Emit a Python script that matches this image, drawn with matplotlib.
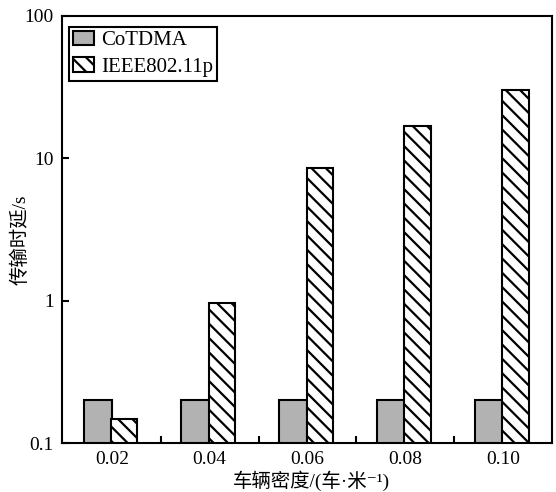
import matplotlib
matplotlib.use("Agg")
import matplotlib.pyplot as plt
import numpy as np

categories = ["0.02", "0.04", "0.06", "0.08", "0.10"]
cotdma = [0.2, 0.2, 0.2, 0.2, 0.2]
ieee = [0.148, 0.96, 8.6, 17.0, 30.3]
series_names = ["CoTDMA", "IEEE802.11p"]
xlabel = "车辆密度/(车·米⁻¹)"
ylabel = "传输时延/s"

DPI = 86
S = 100.0 / DPI  # sizes below were tuned for 100 dpi
BACKSLASH = chr(92)

fam = ["Liberation Serif", "Noto Sans CJK SC", "DejaVu Sans"]
plt.rcParams["font.family"] = fam
plt.rcParams["hatch.linewidth"] = 1.6 * S
plt.rcParams["axes.linewidth"] = 1.5 * S

fig = plt.figure(figsize=(556 / DPI, 492 / DPI), dpi=DPI)
ax = fig.add_axes([62/556, 1 - 443/492, (552-62)/556, (443-16)/492])

x = np.arange(len(categories))
w = 0.29
ax.bar(x - w/2, cotdma, width=w, color="#b2b2b2", edgecolor="black", linewidth=1.5 * S, label=series_names[0])
ax.bar(x + w/2 - 0.02, ieee, width=w - 0.02, color="white", edgecolor="black", linewidth=1.5 * S,
       hatch=BACKSLASH * 2, label=series_names[1])

ax.set_yscale("log")
ax.set_ylim(0.1, 100)
ax.set_xlim(-0.51, 4.5)
ax.set_yticks([0.1, 1, 10, 100])
ax.set_yticklabels(["0.1", "1", "10", "100"])
ax.yaxis.set_minor_locator(matplotlib.ticker.NullLocator())
ax.tick_params(axis="y", which="major", direction="in", length=5 * S, width=1.5 * S,
               labelsize=14 * S, pad=6 * S)

ax.set_xticks([0.5, 1.5, 2.5, 3.5])
ax.set_xticklabels([])
ax.set_xticks(x, minor=True)
ax.set_xticklabels(categories, minor=True)
ax.tick_params(axis="x", which="major", direction="in", length=5 * S, width=1.5 * S)
ax.tick_params(axis="x", which="minor", length=0, labelsize=14 * S, pad=6 * S)

ax.set_xlabel(xlabel, fontsize=14 * S)
ax.xaxis.set_label_coords(0.51, -0.064)
ax.set_ylabel(ylabel, fontsize=14 * S)
ax.yaxis.set_label_coords(-0.067, 0.475)

leg = ax.legend(loc="upper left", bbox_to_anchor=(0.005, 0.985), fontsize=15 * S, frameon=True,
                fancybox=False, edgecolor="black", framealpha=1, borderpad=0.2,
                handlelength=1.0, handleheight=0.7, handletextpad=0.35, labelspacing=0.33,
                borderaxespad=0.2)
leg.get_frame().set_linewidth(1.5 * S)

fig.savefig("out.png", dpi=DPI)
